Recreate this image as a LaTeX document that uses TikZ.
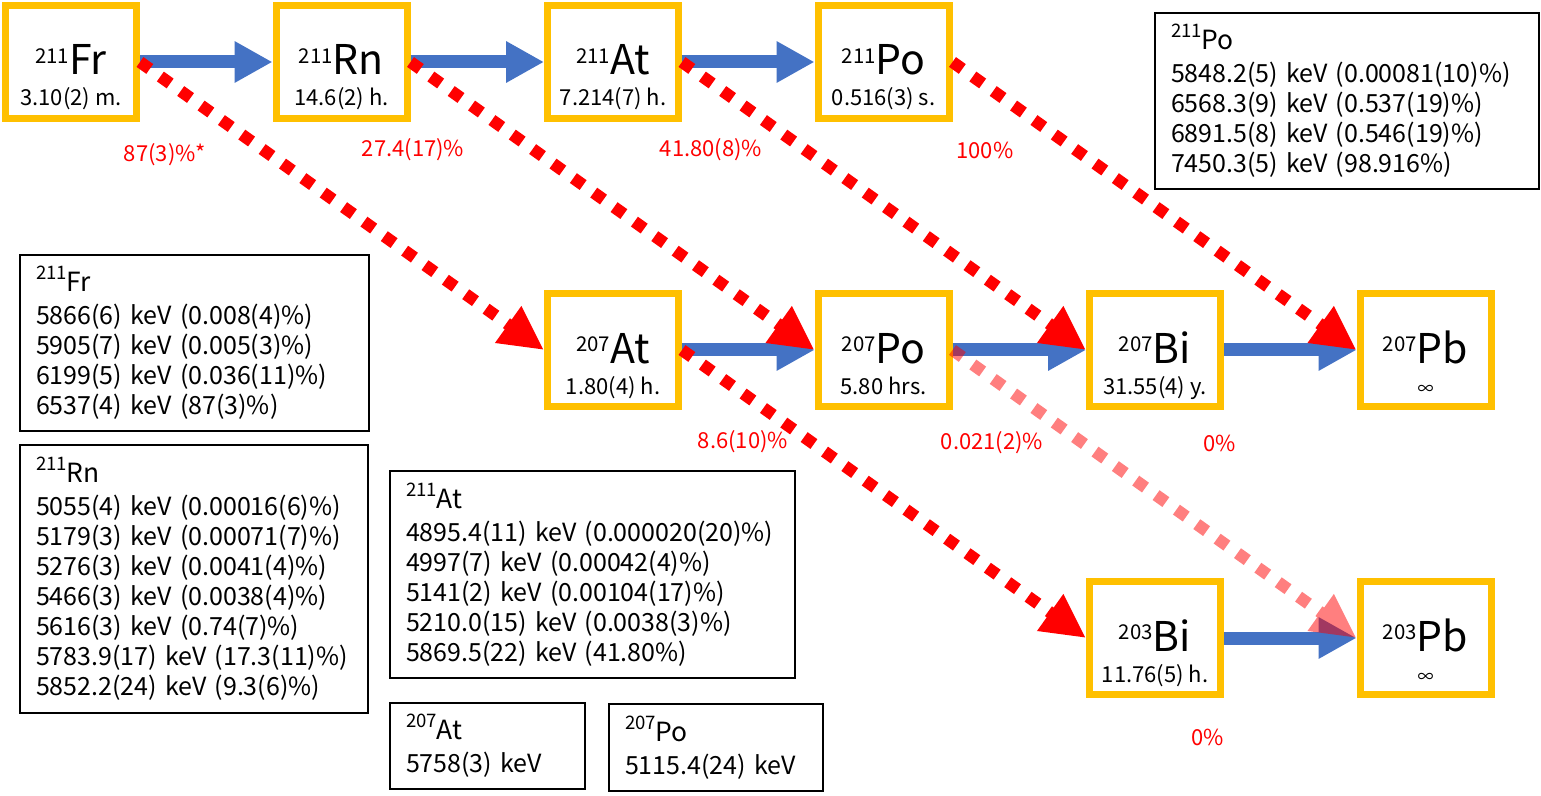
\documentclass[tikz,border=0pt]{standalone}
\usepackage{fontspec}
\setmainfont{Noto Sans CJK JP}
\usetikzlibrary{arrows.meta}
\definecolor{nucyellow}{HTML}{FFC000}
\definecolor{decblue}{HTML}{4472C4}
\definecolor{decred}{HTML}{FF0000}
\newcommand\bignuc[2]{\raisebox{.27em}{\fontsize{10.2}{10.2}\selectfont #1}#2}
\newcommand\smallnuc[2]{\raisebox{.48em}{\fontsize{9.3}{9.3}\selectfont #1}{\fontsize{13.2}{15}\selectfont #2}}
\newcommand\nucl[3]{{\fontsize{20.5}{20.5}\selectfont\bignuc{#1}{#2}}\\#3}
\tikzset{
  nuc/.style={draw=nucyellow, line width=3.5pt, minimum width=65.5pt, minimum height=56.5pt, outer sep=1.75pt},
  nuctext/.style={anchor=base, align=center, inner sep=0pt, font=\fontsize{11}{15.5}\selectfont},
  betadec/.style={line width=6.5pt, draw=decblue, -{Triangle[width=19.5pt,length=19pt]}},
  alphadec/.style={line width=6pt, draw=decred, dash pattern=on 6pt off 6.5pt, -{Triangle[width=21pt,length=22pt]}},
  ratio/.style={text=decred, font=\fontsize{11}{13}\selectfont, inner sep=0pt},
  info/.style={draw, line width=1pt, anchor=north west, align=left, inner xsep=8pt, inner ysep=0pt, font=\fontsize{12.5}{15}\selectfont}
}

\begin{document}
\begin{tikzpicture}[x=0.5pt, y=-0.5pt]
\useasboundingbox (0,0) rectangle (1541,796);

% nuclides
\node[nuc] (fr211) at (71,62) {};
\node[nuc] (rn211) at (341.5,62) {};
\node[nuc] (at211) at (613,62) {};
\node[nuc] (po211) at (883.5,62) {};
\node[nuc] (at207) at (613,350) {};
\node[nuc] (po207) at (883.5,350) {};
\node[nuc] (bi207) at (1155,350) {};
\node[nuc] (pb207) at (1425.5,350) {};
\node[nuc] (bi203) at (1155,638) {};
\node[nuc] (pb203) at (1425.5,638) {};

\node[nuctext] (fr211t) at ([yshift=-22pt]fr211.center) {\nucl{211}{Fr}{3.10(2) m.}};
\node[nuctext] (rn211t) at ([yshift=-22pt]rn211.center) {\nucl{211}{Rn}{14.6(2) h.}};
\node[nuctext] (at211t) at ([yshift=-22pt]at211.center) {\nucl{211}{At}{7.214(7) h.}};
\node[nuctext] (po211t) at ([yshift=-22pt]po211.center) {\nucl{211}{Po}{0.516(3) s.}};
\node[nuctext] (at207t) at ([yshift=-22pt]at207.center) {\nucl{207}{At}{1.80(4) h.}};
\node[nuctext] (po207t) at ([yshift=-22pt]po207.center) {\nucl{207}{Po}{5.80 hrs.}};
\node[nuctext] (bi207t) at ([yshift=-22pt]bi207.center) {\nucl{207}{Bi}{31.55(4) y.}};
\node[nuctext] (pb207t) at ([yshift=-22pt]pb207.center) {\nucl{207}{Pb}{\fontsize{8}{8}\selectfont ∞}};
\node[nuctext] (bi203t) at ([yshift=-22pt]bi203.center) {\nucl{203}{Bi}{11.76(5) h.}};
\node[nuctext] (pb203t) at ([yshift=-22pt]pb203.center) {\nucl{203}{Pb}{\fontsize{8}{8}\selectfont ∞}};

% beta / EC
\draw[betadec] (fr211.east) -- (rn211.west);
\draw[betadec] (rn211.east) -- (at211.west);
\draw[betadec] (at211.east) -- (po211.west);
\draw[betadec] (at207.east) -- (po207.west);
\draw[betadec] (po207.east) -- (bi207.west);
\draw[betadec] (bi207.east) -- (pb207.west);
\draw[betadec] (bi203.east) -- (pb203.west);

% alpha
\draw[alphadec] (fr211.east) -- (at207.west);
\draw[alphadec] (rn211.east) -- (po207.west);
\draw[alphadec] (at211.east) -- (bi207.west);
\draw[alphadec] (po211.east) -- (pb207.west);
\draw[alphadec] (at207.east) -- (bi203.west);
\begin{scope}[transparency group, opacity=0.5]
  \draw[alphadec] (po207.east) -- (pb203.west);
\end{scope}

% branching ratios
\node[ratio] (rfr211) at (165,155) {87(3)\%*};
\node[ratio] (rrn211) at (413,150) {27.4(17)\%};
\node[ratio] (rat211) at (711,150) {41.80(8)\%};
\node[ratio] (rpo211) at (985,150) {100\%};
\node[ratio] (rat207) at (743,442) {8.6(10)\%};
\node[ratio] (rpo207) at (992,443) {0.021(2)\%};
\node[ratio] (rbi207) at (1220,443) {0\%};
\node[ratio] (rbi203) at (1208,737) {0\%};

% alpha energies
\node[info, text width=176pt, minimum height=88pt] (ipo211) at (1154,12)
  {\smallnuc{211}{Po}\\[1.5pt]
   5848.2(5) keV (0.00081(10)\%)\\
   6568.3(9) keV (0.537(19)\%)\\
   6891.5(8) keV (0.546(19)\%)\\
   7450.3(5) keV (98.916\%)};
\node[info, text width=158.5pt, minimum height=88pt] (ifr211) at (19,254)
  {\smallnuc{211}{Fr}\\[1.5pt]
   5866(6) keV (0.008(4)\%)\\
   5905(7) keV (0.005(3)\%)\\
   6199(5) keV (0.036(11)\%)\\
   6537(4) keV (87(3)\%)};
\node[info, text width=158pt, minimum height=134pt] (irn211) at (19,444)
  {\smallnuc{211}{Rn}\\[1.5pt]
   5055(4) keV (0.00016(6)\%)\\
   5179(3) keV (0.00071(7)\%)\\
   5276(3) keV (0.0041(4)\%)\\
   5466(3) keV (0.0038(4)\%)\\
   5616(3) keV (0.74(7)\%)\\
   5783.9(17) keV (17.3(11)\%)\\
   5852.2(24) keV (9.3(6)\%)};
\node[info, text width=186.5pt, minimum height=103.5pt] (iat211) at (389,470)
  {\smallnuc{211}{At}\\[1.5pt]
   4895.4(11) keV (0.000020(20)\%)\\
   4997(7) keV (0.00042(4)\%)\\
   5141(2) keV (0.00104(17)\%)\\
   5210.0(15) keV (0.0038(3)\%)\\
   5869.5(22) keV (41.80\%)};
\node[info, text width=81.5pt, minimum height=43pt] (iat207) at (389,702)
  {\smallnuc{207}{At}\\[1.5pt]
   5758(3) keV};
\node[info, text width=91pt, minimum height=43.5pt] (ipo207) at (608,703)
  {\smallnuc{207}{Po}\\[1.5pt]
   5115.4(24) keV};

\end{tikzpicture}
\end{document}
